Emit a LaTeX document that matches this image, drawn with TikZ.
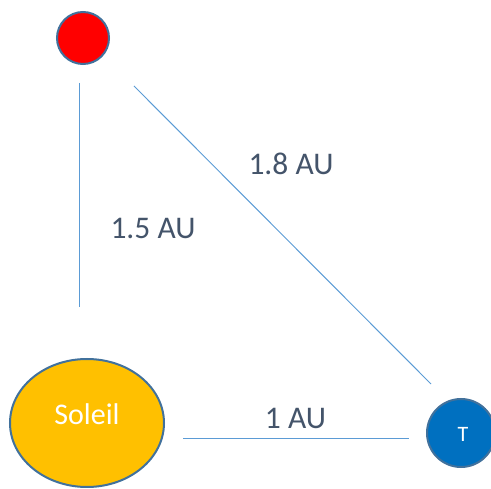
\documentclass[tikz,border=0pt]{standalone}
\usepackage{fontspec}
\setmainfont{Carlito}
\usetikzlibrary{shapes.geometric}
\definecolor{linkblue}{HTML}{5B9BD5}
\definecolor{rimblue}{HTML}{41719C}
\definecolor{labelgrey}{HTML}{44546A}
\definecolor{sunfill}{HTML}{FFC000}
\definecolor{earthfill}{HTML}{0070C0}
\begin{document}
\begin{tikzpicture}[x=1pt,y=-1pt,
  body/.style={draw=rimblue,line width=2pt,inner sep=0pt},
  link/.style={draw=linkblue,line width=1pt},
  dist/.style={text=labelgrey,font=\fontsize{31.5}{36}\selectfont,anchor=base,inner sep=0pt}]
\useasboundingbox (0,0) rectangle (491,489);
\node[body,circle,fill=red,minimum size=52pt] (mars) at (83,38) {};
\node[body,ellipse,fill=sunfill,minimum width=154pt,minimum height=128pt] (sun) at (87,423) {};
\node[body,circle,fill=earthfill,minimum size=68pt] (earth) at (461,433) {};
\node[text=white,font=\fontsize{30}{34}\selectfont,anchor=base,inner sep=0pt] (soleil) at (87,425) {Soleil};
\node[text=white,font=\fontsize{22}{26}\selectfont,anchor=base,inner sep=0pt] (tlabel) at (463,442) {T};
\coordinate (v1) at (79.5,83);
\coordinate (v2) at (79.5,307);
\coordinate (d1) at (134,86);
\coordinate (d2) at (431,384);
\coordinate (h1) at (183,439);
\coordinate (h2) at (409,439);
\draw[link] (v1) -- (v2);
\draw[link] (d1) -- (d2);
\draw[link] (h1) -- (h2);
\node[dist] (l15) at (153,239) {1.5 AU};
\node[dist] (l18) at (291,175) {1.8 AU};
\node[dist] (l1) at (295.5,429) {1 AU};
\end{tikzpicture}
\end{document}
